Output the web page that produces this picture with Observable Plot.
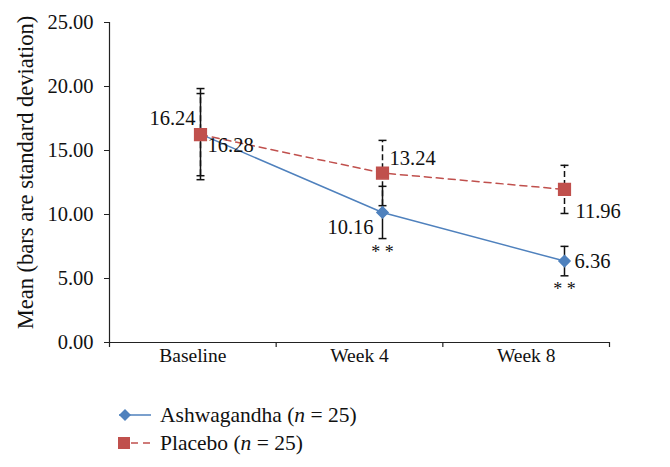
<!DOCTYPE html>
<html>
<head>
<meta charset="utf-8">
<script src="https://cdn.jsdelivr.net/npm/d3@7"></script>
<script src="https://cdn.jsdelivr.net/npm/@observablehq/plot@0.6"></script>
<style>
  html, body { margin: 0; padding: 0; background: #fff; }
  #wrap { position: relative; width: 670px; height: 467px; font-family: "Liberation Serif", "DejaVu Serif", serif; }
  #wrap svg { position: absolute; left: 0; top: 0; }
  #legend { position: absolute; left: 117px; top: 401px; font-size: 21.5px; color: #111; }
  .row { display: flex; align-items: center; height: 28px; }
  .row svg { position: static !important; margin-right: 7px; }
</style>
</head>
<body>
<div id="wrap">
  <div id="layerA"></div>
  <div id="layerB"></div>
  <div id="legend"></div>
</div>
<script>
// ---- data ----
const categories = ["Baseline", "Week 4", "Week 8"];
const ashMean = [16.28, 10.16, 6.36];
const ashSD = [3.56, 2.04, 1.15];
const plaMean = [16.24, 13.24, 11.96];
const plaSD = [3.21, 2.55, 1.88];
const significance = ["", "* *", "* *"];
const yTicks = [0, 5, 10, 15, 20, 25];
const seriesNames = ["Ashwagandha", "Placebo"];
const groupSize = [25, 25];

const blue = "#4F81BD", red = "#C0504D";
const font = "Liberation Serif";
const W = 670, H = 385;
const M = {marginLeft: 109, marginRight: 61, marginTop: 22, marginBottom: 43};

const ash = categories.map((c, i) => ({cat: c, i, mean: ashMean[i], sd: ashSD[i], sig: significance[i]}));
const pla = categories.map((c, i) => ({cat: c, i, mean: plaMean[i], sd: plaSD[i]}));
const fmt = d3.format(".2f");

// horizontal cap symbol for error bars
const cap = {draw(ctx, size) { const r = Math.sqrt(size) / 2; ctx.moveTo(-r, 0); ctx.lineTo(r, 0); }};

// ---- layer A: category axis (ticks at category boundaries, labels centred) ----
const plotA = Plot.plot({
  width: W, height: H, ...M,
  style: {fontFamily: font, fontSize: "19.5px", background: "transparent", color: "#111"},
  x: {domain: [0, categories.length], axis: null},
  y: {domain: [0, 25], axis: null},
  marks: [
    Plot.ruleY([0], {stroke: "#222", strokeWidth: 1.2}),
    Plot.axisX({ticks: d3.range(categories.length + 1), tickFormat: () => "", tickSize: 5, stroke: "#222", strokeWidth: 1.2}),
    Plot.text(categories, {x: (d, i) => i + 0.5, frameAnchor: "bottom", dy: 19, fill: "#111"})
  ]
});
document.getElementById("layerA").appendChild(plotA);

// ---- layer B: y axis and data ----
function label(data, i, text, opts) {
  return Plot.text([data[i]], {x: "cat", y: "mean", text, fill: "#111", ...opts});
}
const capOpts = {x: "cat", symbol: cap, r: 4.5, fill: "none", stroke: "#111", strokeWidth: 1.5};
const plotB = Plot.plot({
  width: W, height: H, ...M,
  style: {fontFamily: font, fontSize: "20.5px", background: "transparent", color: "#111"},
  x: {type: "point", domain: categories, range: [200, 564], padding: 0, axis: null},
  y: {domain: [0, 25]},
  marks: [
    Plot.axisY({ticks: yTicks, tickFormat: fmt, tickSize: 5, tickPadding: 11, label: null, stroke: "#222", fill: "#111"}),
    Plot.frame({anchor: "left", stroke: "#222", strokeWidth: 1.2}),
    Plot.text(["Mean (bars are standard deviation)"], {frameAnchor: "left", rotate: -90, textAnchor: "middle", dx: -84, dy: -10, fontSize: 22.5, fill: "#111"}),
    Plot.line(pla, {x: "cat", y: "mean", stroke: red, strokeWidth: 1.5, strokeDasharray: "7,5"}),
    Plot.line(ash, {x: "cat", y: "mean", stroke: blue, strokeWidth: 1.5}),
    // error bars
    Plot.ruleX(pla, {x: "cat", y1: d => d.mean - d.sd, y2: d => d.mean + d.sd, stroke: "#111", strokeWidth: 1.5, strokeDasharray: "6,3"}),
    Plot.dot(pla, {...capOpts, y: d => d.mean - d.sd}),
    Plot.dot(pla, {...capOpts, y: d => d.mean + d.sd}),
    Plot.ruleX(ash, {x: "cat", y1: d => d.mean - d.sd, y2: d => d.mean + d.sd, stroke: "#111", strokeWidth: 1.5}),
    Plot.dot(ash, {...capOpts, y: d => d.mean - d.sd}),
    Plot.dot(ash, {...capOpts, y: d => d.mean + d.sd}),
    // markers
    Plot.dot(ash, {x: "cat", y: "mean", symbol: "diamond2", r: 5, fill: blue, stroke: blue}),
    Plot.dot(pla, {x: "cat", y: "mean", symbol: "square", r: 6.6, fill: red, stroke: red}),
    // value labels
    label(pla, 0, d => fmt(d.mean), {dx: -5, dy: -16, textAnchor: "end"}),
    label(ash, 0, d => fmt(d.mean), {dx: 7, dy: 11, textAnchor: "start"}),
    label(pla, 1, d => fmt(d.mean), {dx: 7, dy: -15, textAnchor: "start"}),
    label(ash, 1, d => fmt(d.mean), {dx: -9, dy: 15, textAnchor: "end"}),
    label(pla, 2, d => fmt(d.mean), {dx: 11, dy: 22, textAnchor: "start"}),
    label(ash, 2, d => fmt(d.mean), {dx: 10, dy: 0, textAnchor: "start"}),
    // significance markers
    label(ash, 1, d => d.sig, {dy: 40, fontSize: 18}),
    label(ash, 2, d => d.sig, {dy: 28, fontSize: 18})
  ]
});
document.getElementById("layerB").appendChild(plotB);

// ---- legend ----
const legend = document.getElementById("legend");
const sym = [
  `<svg width="36" height="20"><line x1="2" y1="10" x2="34" y2="10" stroke="${blue}" stroke-width="1.5"/><path d="M8 4 L14 10 L8 16 L2 10 Z" fill="${blue}"/></svg>`,
  `<svg width="36" height="20"><line x1="2" y1="10" x2="34" y2="10" stroke="${red}" stroke-width="1.5" stroke-dasharray="7,5"/><rect x="1" y="4" width="12" height="12" fill="${red}"/></svg>`
];
seriesNames.forEach((name, k) => {
  const row = document.createElement("div");
  row.className = "row";
  row.innerHTML = sym[k] + `<span>${name} (<i>n</i> = ${groupSize[k]})</span>`;
  legend.appendChild(row);
});
</script>
</body>
</html>
